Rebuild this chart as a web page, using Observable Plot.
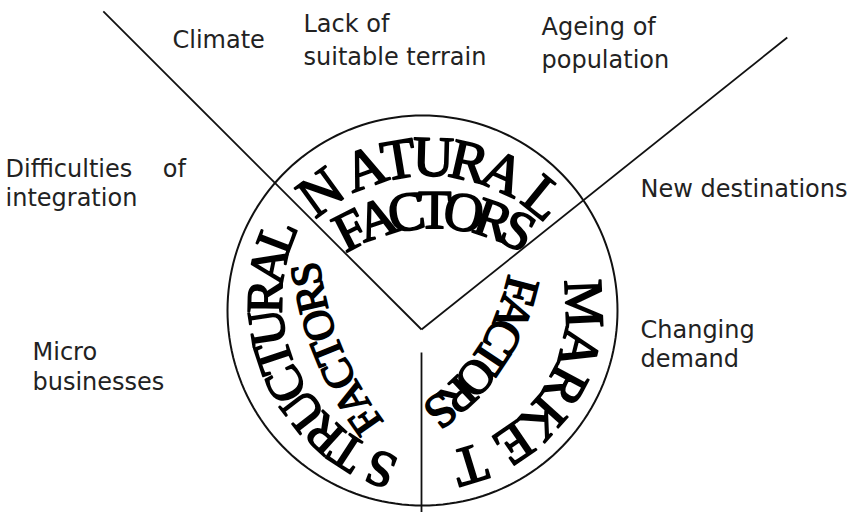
<!DOCTYPE html>
<html>
<head>
<meta charset="utf-8">
<script src="https://cdn.jsdelivr.net/npm/d3@7"></script>
<script src="https://cdn.jsdelivr.net/npm/@observablehq/plot@0.6"></script>
<style>
  html, body { margin: 0; padding: 0; background: #fff; }
</style>
</head>
<body>
<div id="chart"></div>
<script>
// Outer factor labels (diagram coordinates: origin at circle centre, y up; baseline position)
const labelText = ["Climate", "Lack of", "suitable terrain", "Ageing of", "population",
  "Difficulties\u00a0\u00a0\u00a0\u00a0of", "integration", "New destinations",
  "Changing", "demand", "Micro", "businesses"];
const labelX = [-250, -119, -119, 119, 119, -417, -417, 218, 218, 218, -390, -390];
const labelY = [263, 279, 246, 276, 243, 134, 105, 114, -27, -56, -49, -79];

// Divider spokes from the hub
const hub = [-1, -19];
const spokeAngle = [135, 38.6, -90];
const spokeFrom = [0, 0, 23];
const spokeTo = [450, 468, 185];

// Main circle
const circleRadius = 195;

// Curved group titles
const arcText = ["N ATURA L", "FACTORS", "S TRUCTURAL", "FACTORS", "MARKE T", "FACTORS"];
const arcCX = [6, 11, 23, 230, 0, -117];
const arcCY = [-30, -82, 10, 91, 0, 76.5];
const arcR = [183, 182, 180, 350, 161, 222];
const arcStart = [126, 117, 249, 215, 2.4, -14.7];
const arcEnd = [51, 62.3, 159, 189, -73, -52.6];
const arcSize = [57, 55, 51, 43, 55, 48];

const serif = '"Liberation Serif", "Times New Roman", serif';
const ctx = document.createElement("canvas").getContext("2d");
const rad = Math.PI / 180;

const wordMarks = arcText.map((t, k) => {
  ctx.font = `${arcSize[k]}px ${serif}`;
  const chars = Array.from(t);
  const w = chars.map(c => ctx.measureText(c).width);
  const centers = [];
  let acc = 0;
  w.forEach(wi => { centers.push(acc + wi / 2); acc += wi; });
  const s0 = centers[0], s1 = centers[centers.length - 1];
  const letters = [];
  chars.forEach((c, i) => {
    if (c === " ") return;
    const f = (centers[i] - s0) / (s1 - s0);
    const th = arcStart[k] + (arcEnd[k] - arcStart[k]) * f;
    letters.push({
      ch: c,
      x: arcCX[k] + arcR[k] * Math.cos(th * rad),
      y: arcCY[k] + arcR[k] * Math.sin(th * rad),
      rot: 90 - th
    });
  });
  return Plot.text(letters, {
    x: "x", y: "y", text: "ch", rotate: "rot",
    textAnchor: "middle", lineAnchor: "middle",
    fontFamily: serif, fontSize: arcSize[k],
    fill: "#000", stroke: "#000", strokeWidth: 1.7
  });
});

const circlePts = d3.range(0, 361, 2).map(a => ({
  x: circleRadius * Math.cos(a * rad),
  y: circleRadius * Math.sin(a * rad)
}));

const spokes = spokeAngle.map((a, i) => ({
  x1: hub[0] + spokeFrom[i] * Math.cos(a * rad),
  y1: hub[1] + spokeFrom[i] * Math.sin(a * rad),
  x2: hub[0] + spokeTo[i] * Math.cos(a * rad),
  y2: hub[1] + spokeTo[i] * Math.sin(a * rad)
}));

const labels = labelText.map((t, i) => ({ t, x: labelX[i], y: labelY[i] }));

const chart = Plot.plot({
  width: 856,
  height: 512,
  margin: 0,
  style: { background: "#fff" },
  x: { domain: [-422, 434], axis: null },
  y: { domain: [-202, 310], axis: null },
  marks: [
    Plot.link(spokes, { x1: "x1", y1: "y1", x2: "x2", y2: "y2", stroke: "#111", strokeWidth: 1.8 }),
    Plot.line(circlePts, { x: "x", y: "y", stroke: "#111", strokeWidth: 2 }),
    ...wordMarks,
    Plot.text(labels, {
      x: "x", y: "y", text: "t",
      textAnchor: "start", lineAnchor: "bottom",
      fontFamily: "DejaVu Sans", fontSize: 24, fill: "#222"
    })
  ]
});
document.getElementById("chart").appendChild(chart);
</script>
</body>
</html>
